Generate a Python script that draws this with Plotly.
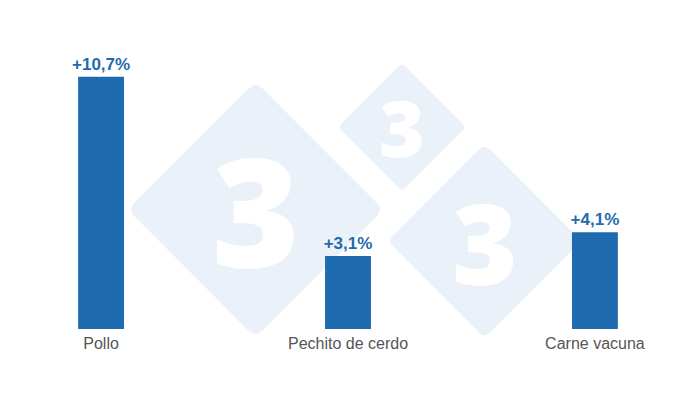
import plotly.graph_objects as go

# Datos
categorias = ["Pollo", "Pechito de cerdo", "Carne vacuna"]
variacion = [10.7, 3.1, 4.1]
etiquetas = ["+10,7%", "+3,1%", "+4,1%"]

AZUL = "#1f6baf"
FONDO_LOGO = "#eaf1f8"

W, H = 700, 400
OFF = 8  # margen del body de la pagina
ML, MR, MT, MB = 27 - OFF, 31 + OFF, 46 - OFF, 71 + OFF
PW, PH = W - ML - MR, H - MT - MB


def px2paper(x, y):
    # x, y en pixeles de la captura
    x, y = x - OFF, y - OFF
    return (x - ML) / PW, (H - MB - y) / PH


def rombo(cx, cy, r, k=0.055):
    # rombo con esquinas redondeadas
    pts = [(cx, cy - r), (cx + r, cy), (cx, cy + r), (cx - r, cy)]
    d = ""
    n = len(pts)
    for i in range(n):
        p0 = pts[i - 1]
        p1 = pts[i]
        p2 = pts[(i + 1) % n]
        a = (p1[0] + (p0[0] - p1[0]) * k, p1[1] + (p0[1] - p1[1]) * k)
        b = (p1[0] + (p2[0] - p1[0]) * k, p1[1] + (p2[1] - p1[1]) * k)
        ax, ay = px2paper(*a)
        bx, by = px2paper(*b)
        cx1, cy1 = px2paper(*p1)
        d += ("M" if i == 0 else "L") + f"{ax},{ay} Q{cx1},{cy1} {bx},{by} "
    return d + "Z"


fig = go.Figure(go.Bar(
    x=categorias,
    y=variacion,
    text=etiquetas,
    textposition="outside",
    constraintext="none",
    cliponaxis=False,
    width=0.186,
    marker=dict(color=AZUL, line=dict(width=0)),
    textfont=dict(family="Liberation Sans", size=17, color=AZUL, weight="bold"),
    hoverinfo="skip",
))

# marca de agua
logos = [(255.5, 209.5, 128, 150), (402, 127, 64, 78), (484.5, 241, 97, 112)]
for cx, cy, r, fs in logos:
    fig.add_shape(type="path", path=rombo(cx, cy, r), xref="paper", yref="paper",
                  fillcolor=FONDO_LOGO, line=dict(width=0), layer="below")
    ax, ay = px2paper(cx, cy)
    fig.add_annotation(x=ax, y=ay, xref="paper", yref="paper", text="3",
                       showarrow=False, xanchor="center", yanchor="middle",
                       font=dict(family="Open Sans", size=fs, color="white", weight=800))

fig.update_layout(
    width=W, height=H,
    margin=dict(l=ML, r=MR, t=MT, b=MB),
    plot_bgcolor="white", paper_bgcolor="white",
    showlegend=False,
    xaxis=dict(range=[-0.3, 2.3], showgrid=False, zeroline=False, showline=False,
               ticks="", ticklabelstandoff=3,
               tickfont=dict(family="Liberation Sans", size=16, color="#555555")),
    yaxis=dict(range=[0, 12], visible=False, showgrid=False, zeroline=False),
)

fig.write_html("out.html")
